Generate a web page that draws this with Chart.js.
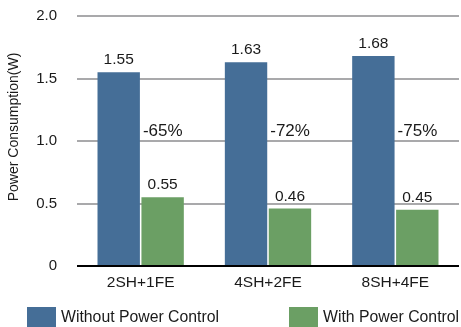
<!DOCTYPE html>
<html>
<head>
<meta charset="utf-8">
<script src="https://cdn.jsdelivr.net/npm/chart.js@4"></script>
<style>
  html, body { margin: 0; padding: 0; background: #fff; }
  #wrap { width: 461px; height: 327px; }
</style>
</head>
<body>
<div id="wrap"><canvas id="powerChart"></canvas></div>
<script>
const categories = ['2SH+1FE', '4SH+2FE', '8SH+4FE'];
const withoutControl = [1.55, 1.63, 1.68];
const withControl = [0.55, 0.46, 0.45];
const reductions = ['-65%', '-72%', '-75%'];
const yTicks = [0, 0.5, 1.0, 1.5, 2.0];
const yTitle = 'Power Consumption(W)';

const fontFamily = '"Liberation Sans", Arial, Helvetica, sans-serif';
const textColor = '#1a1a1a';
const blue = '#456e97';
const green = '#6b9f64';

// numbers over the bars, reduction labels, axis title and the legend row
const labelPlugin = {
    id: 'barLabels',
    afterDatasetsDraw(chart) {
        const ctx = chart.ctx;
        const y = chart.scales.y;
        ctx.save();
        ctx.fillStyle = textColor;
        ctx.font = '15.5px ' + fontFamily;
        ctx.textAlign = 'center';
        ctx.textBaseline = 'alphabetic';
        chart.data.datasets.forEach((ds, di) => {
            chart.getDatasetMeta(di).data.forEach((bar, i) => {
                ctx.fillText(ds.data[i].toFixed(2), bar.x, bar.y - 8);
            });
        });
        ctx.textAlign = 'left';
        ctx.textBaseline = 'middle';
        ctx.font = '17px ' + fontFamily;
        chart.getDatasetMeta(0).data.forEach((bar, i) => {
            ctx.fillText(reductions[i], bar.x + bar.width / 2 + 3, y.getPixelForValue(1.08));
        });
        ctx.restore();
    },
    afterDraw(chart) {
        const ctx = chart.ctx;
        const boxLeft = [27, 289];
        const top = chart.height - 20;
        ctx.save();
        ctx.font = '15.8px ' + fontFamily;
        ctx.textAlign = 'left';
        ctx.textBaseline = 'middle';
        chart.data.datasets.forEach((ds, i) => {
            ctx.fillStyle = ds.backgroundColor;
            ctx.fillRect(boxLeft[i], top, 29, 20);
            ctx.fillStyle = textColor;
            ctx.fillText(ds.label, boxLeft[i] + 34, top + 11);
        });

        // y axis title, sits a little above the middle of the axis
        ctx.translate(14, 127);
        ctx.rotate(-Math.PI / 2);
        ctx.textAlign = 'center';
        ctx.font = '14px ' + fontFamily;
        ctx.fillText(yTitle, 0, 0);
        ctx.restore();
    }
};

new Chart(document.getElementById('powerChart'), {
    type: 'bar',
    data: {
        labels: categories,
        datasets: [{
            label: 'Without Power Control',
            data: withoutControl,
            backgroundColor: blue,
            categoryPercentage: 0.69,
            barPercentage: 0.965
        }, {
            label: 'With Power Control',
            data: withControl,
            backgroundColor: green,
            categoryPercentage: 0.69,
            barPercentage: 0.965
        }]
    },
    options: {
        responsive: true,
        maintainAspectRatio: false,
        animation: false,
        layout: { padding: { top: 0, right: 2, left: 0, bottom: 33 } },
        plugins: {
            legend: { display: false },
            tooltip: { enabled: false }
        },
        scales: {
            y: {
                min: 0,
                max: 2,
                afterBuildTicks: s => { s.ticks = yTicks.map(v => ({ value: v })); },
                grid: {
                    color: ctx => ctx.tick.value === 0 ? '#000' : '#a9a9ab',
                    lineWidth: 2,
                    drawTicks: false
                },
                border: { display: false },
                ticks: {
                    padding: 20,
                    color: textColor,
                    font: { size: 15, family: fontFamily },
                    callback: v => v === 0 ? '0' : v.toFixed(1)
                },
                afterFit: s => {
                    s.width = 77;
                    s.paddingTop = 16;
                    s.paddingBottom = 8;
                }
            },
            x: {
                grid: { display: false, drawTicks: false },
                border: { display: false },
                ticks: {
                    padding: 7,
                    color: textColor,
                    font: { size: 15.5, family: fontFamily }
                },
                afterFit: s => { s.height = 28; }
            }
        }
    },
    plugins: [labelPlugin]
});
</script>
</body>
</html>
